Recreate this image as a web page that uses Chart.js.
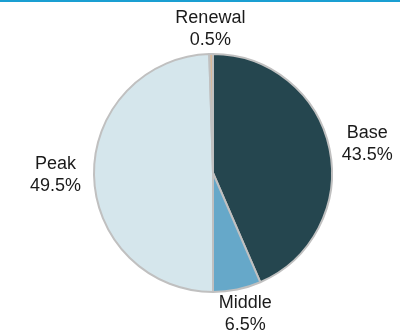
<!DOCTYPE html>
<html>
<head>
<meta charset="utf-8">
<script src="https://cdn.jsdelivr.net/npm/chart.js@4/dist/chart.umd.min.js"></script>
<style>
  html, body { margin: 0; padding: 0; background: #fff; }
  #wrap { position: relative; width: 400px; height: 335px; }
  #topline { position: absolute; left: 0; top: 0; width: 400px; height: 2px; background: #1a9fd2; }
  canvas { display: block; }
</style>
</head>
<body>
<div id="wrap">
  <canvas id="c" width="400" height="335"></canvas>
  <div id="topline"></div>
</div>
<script>
// Generation mix shares (percent)
const categories = ['Base', 'Middle', 'Peak', 'Renewal'];
const shares = [43.5, 6.5, 49.5, 0.5];
const sliceColors = ['#25464f', '#66a8c9', '#d5e6ec', '#d8b898'];

// Draws "Name\nValue%" outside each slice, along the slice's mid angle
const outsideLabels = {
  id: 'outsideLabels',
  afterDatasetsDraw(chart) {
    const ctx = chart.ctx;
    const meta = chart.getDatasetMeta(0);
    const ds = chart.data.datasets[0];
    const pad = 13, lineH = 22, halfV = 12;
    ctx.save();
    ctx.font = '18px "Liberation Sans", Arial, sans-serif';
    ctx.fillStyle = '#1a1a1a';
    ctx.textAlign = 'center';
    ctx.textBaseline = 'middle';
    meta.data.forEach((arc, i) => {
      const p = arc.getProps(['x', 'y', 'startAngle', 'endAngle', 'outerRadius'], true);
      const mid = (p.startAngle + p.endAngle) / 2;
      const ux = Math.cos(mid), uy = Math.sin(mid);
      const lines = [chart.data.labels[i], ds.data[i].toFixed(1) + '%'];
      const w = Math.max(...lines.map(t => ctx.measureText(t).width));
      const ax = p.x + (p.outerRadius + pad) * ux;
      const ay = p.y + (p.outerRadius + pad) * uy;
      const cx = ax + ux * w / 2;
      const cy = ay + uy * halfV;
      lines.forEach((t, k) => {
        ctx.fillText(t, cx, cy + (k - (lines.length - 1) / 2) * lineH);
      });
    });
    ctx.restore();
  }
};

new Chart(document.getElementById('c'), {
  type: 'pie',
  data: {
    labels: categories,
    datasets: [{
      data: shares,
      backgroundColor: sliceColors,
      borderColor: '#c0c0c0',
      borderWidth: 2
    }]
  },
  options: {
    responsive: false,
    animation: false,
    layout: { padding: { top: 53, bottom: 42, left: 93, right: 67 } },
    plugins: {
      legend: { display: false },
      tooltip: { enabled: false }
    }
  },
  plugins: [outsideLabels]
});
</script>
</body>
</html>
